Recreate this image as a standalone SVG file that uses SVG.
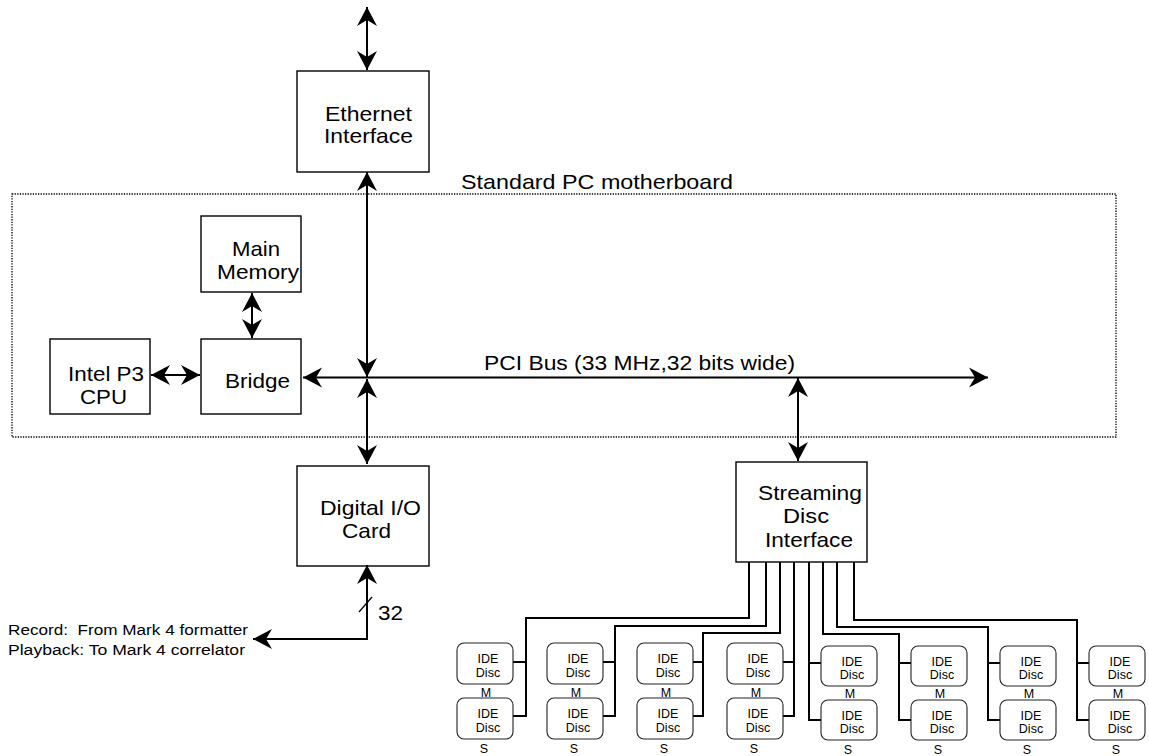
<svg xmlns="http://www.w3.org/2000/svg" width="1149" height="756" viewBox="0 0 1149 756">
<defs>
<marker id="ah" viewBox="-20 -11 21 22" refX="0" refY="0" markerWidth="21" markerHeight="22" markerUnits="userSpaceOnUse" orient="auto-start-reverse">
<path d="M0,0 L-19,-10 L-13,0 L-19,10 Z" fill="#000"/>
</marker>
<style>
.box{fill:#fff;stroke:#000;stroke-width:1.4}
.disc{fill:#fff;stroke:#222;stroke-width:1.1}
.big{font-family:"Liberation Sans",Arial,sans-serif;font-size:21px;fill:#000}
.small{font-family:"Liberation Sans",Arial,sans-serif;font-size:15.5px;fill:#000}
.dt{font-family:"Liberation Sans",Arial,sans-serif;font-size:12.5px;fill:#000;text-anchor:middle}
.conn{fill:none;stroke:#000;stroke-width:2}
.arr{fill:none;stroke:#000;stroke-width:2;marker-start:url(#ah);marker-end:url(#ah)}
</style>
</defs>
<rect width="1149" height="756" fill="#fff"/>

<g id="motherboard">
<rect x="12" y="194" width="1104" height="243" fill="none" stroke="#000" stroke-width="1.3" stroke-dasharray="1.3 1.3"/>
<text class="big" x="461" y="189" textLength="272" lengthAdjust="spacingAndGlyphs">Standard PC motherboard</text>
</g>

<g id="ethernet">
<rect class="box" x="297" y="71" width="132" height="101"/>
<text class="big" x="325" y="121" textLength="87" lengthAdjust="spacingAndGlyphs">Ethernet</text>
<text class="big" x="324" y="143" textLength="89" lengthAdjust="spacingAndGlyphs">Interface</text>
</g>

<g id="memory">
<rect class="box" x="201" y="216" width="100" height="76"/>
<text class="big" x="232" y="256" textLength="48" lengthAdjust="spacingAndGlyphs">Main</text>
<text class="big" x="217" y="279" textLength="82" lengthAdjust="spacingAndGlyphs">Memory</text>
</g>

<g id="cpu">
<rect class="box" x="50" y="339" width="100" height="75"/>
<text class="big" x="68" y="381" textLength="76" lengthAdjust="spacingAndGlyphs">Intel P3</text>
<text class="big" x="80" y="404" textLength="47" lengthAdjust="spacingAndGlyphs">CPU</text>
</g>

<g id="bridge">
<rect class="box" x="201" y="339" width="100" height="75"/>
<text class="big" x="225" y="388" textLength="65" lengthAdjust="spacingAndGlyphs">Bridge</text>
</g>

<g id="pci-label">
<text class="big" x="484" y="370" textLength="311" lengthAdjust="spacingAndGlyphs">PCI Bus (33 MHz,32 bits wide)</text>
</g>

<g id="digital-io">
<rect class="box" x="297" y="466" width="132" height="100"/>
<text class="big" x="320" y="515" textLength="101" lengthAdjust="spacingAndGlyphs">Digital I/O</text>
<text class="big" x="342" y="538" textLength="49" lengthAdjust="spacingAndGlyphs">Card</text>
</g>

<g id="streaming">
<rect class="box" x="736" y="462" width="131" height="100"/>
<text class="big" x="758" y="500" textLength="104" lengthAdjust="spacingAndGlyphs">Streaming</text>
<text class="big" x="783" y="523" textLength="46" lengthAdjust="spacingAndGlyphs">Disc</text>
<text class="big" x="765" y="547" textLength="88" lengthAdjust="spacingAndGlyphs">Interface</text>
</g>

<g id="io-labels">
<text class="small" x="8" y="635" textLength="240" lengthAdjust="spacingAndGlyphs">Record:&#160; From Mark 4 formatter</text>
<text class="small" x="8" y="655" textLength="237" lengthAdjust="spacingAndGlyphs">Playback: To Mark 4 correlator</text>
<text class="big" x="378" y="620" textLength="25" lengthAdjust="spacingAndGlyphs">32</text>
</g>

<g id="connectors">
<line class="arr" x1="367" y1="7" x2="367" y2="70"/>
<line class="arr" x1="367" y1="172" x2="367" y2="377"/>
<line class="arr" x1="367" y1="379" x2="367" y2="464"/>
<line class="arr" x1="303" y1="377.5" x2="988" y2="377.5"/>
<line class="arr" x1="798" y1="378" x2="798" y2="461"/>
<line class="arr" x1="252" y1="293" x2="252" y2="338"/>
<line class="arr" x1="151" y1="375" x2="200" y2="375"/>
<path class="arr" d="M367,565 V639 H253"/>
<line x1="359" y1="612" x2="372" y2="597" stroke="#000" stroke-width="1.3"/>

<path class="conn" d="M749,562 V618 H526 V716 H513 M513,662 H526"/>
<path class="conn" d="M766,562 V626 H615 V716 H603 M603,662 H615"/>
<path class="conn" d="M780,562 V633 H703 V716 H693 M693,662 H703"/>
<path class="conn" d="M794,562 V716 H783 M783,662 H794"/>
<path class="conn" d="M809,562 V720 H821 M809,663 H821"/>
<path class="conn" d="M823,562 V634 H899 V720 H911 M899,663 H911"/>
<path class="conn" d="M837,562 V627 H988 V720 H1000 M988,663 H1000"/>
<path class="conn" d="M854,562 V620 H1077 V720 H1089 M1077,663 H1089"/>
</g>

<g id="disc1m"><rect class="disc" x="457" y="643" width="56" height="41" rx="7"/><text class="dt" x="488" y="663">IDE</text><text class="dt" x="488" y="677">Disc</text></g>
<g id="disc1s"><rect class="disc" x="457" y="698" width="56" height="41" rx="7"/><text class="dt" x="488" y="718">IDE</text><text class="dt" x="488" y="732">Disc</text></g>
<g id="disc2m"><rect class="disc" x="547" y="643" width="56" height="41" rx="7"/><text class="dt" x="578" y="663">IDE</text><text class="dt" x="578" y="677">Disc</text></g>
<g id="disc2s"><rect class="disc" x="547" y="698" width="56" height="41" rx="7"/><text class="dt" x="578" y="718">IDE</text><text class="dt" x="578" y="732">Disc</text></g>
<g id="disc3m"><rect class="disc" x="637" y="643" width="56" height="41" rx="7"/><text class="dt" x="668" y="663">IDE</text><text class="dt" x="668" y="677">Disc</text></g>
<g id="disc3s"><rect class="disc" x="637" y="698" width="56" height="41" rx="7"/><text class="dt" x="668" y="718">IDE</text><text class="dt" x="668" y="732">Disc</text></g>
<g id="disc4m"><rect class="disc" x="727" y="643" width="56" height="41" rx="7"/><text class="dt" x="758" y="663">IDE</text><text class="dt" x="758" y="677">Disc</text></g>
<g id="disc4s"><rect class="disc" x="727" y="698" width="56" height="41" rx="7"/><text class="dt" x="758" y="718">IDE</text><text class="dt" x="758" y="732">Disc</text></g>
<g id="disc5m"><rect class="disc" x="821" y="646" width="56" height="40" rx="7"/><text class="dt" x="852" y="666">IDE</text><text class="dt" x="852" y="679">Disc</text></g>
<g id="disc5s"><rect class="disc" x="821" y="700" width="56" height="40" rx="7"/><text class="dt" x="852" y="720">IDE</text><text class="dt" x="852" y="733">Disc</text></g>
<g id="disc6m"><rect class="disc" x="911" y="646" width="56" height="40" rx="7"/><text class="dt" x="942" y="666">IDE</text><text class="dt" x="942" y="679">Disc</text></g>
<g id="disc6s"><rect class="disc" x="911" y="700" width="56" height="40" rx="7"/><text class="dt" x="942" y="720">IDE</text><text class="dt" x="942" y="733">Disc</text></g>
<g id="disc7m"><rect class="disc" x="1000" y="646" width="56" height="40" rx="7"/><text class="dt" x="1031" y="666">IDE</text><text class="dt" x="1031" y="679">Disc</text></g>
<g id="disc7s"><rect class="disc" x="1000" y="700" width="56" height="40" rx="7"/><text class="dt" x="1031" y="720">IDE</text><text class="dt" x="1031" y="733">Disc</text></g>
<g id="disc8m"><rect class="disc" x="1089" y="646" width="56" height="40" rx="7"/><text class="dt" x="1120" y="666">IDE</text><text class="dt" x="1120" y="679">Disc</text></g>
<g id="disc8s"><rect class="disc" x="1089" y="700" width="56" height="40" rx="7"/><text class="dt" x="1120" y="720">IDE</text><text class="dt" x="1120" y="733">Disc</text></g>

<g id="ms-labels">
<text class="dt" x="486" y="697">M</text><text class="dt" x="484" y="753">S</text>
<text class="dt" x="576" y="697">M</text><text class="dt" x="574" y="753">S</text>
<text class="dt" x="666" y="697">M</text><text class="dt" x="664" y="753">S</text>
<text class="dt" x="756" y="697">M</text><text class="dt" x="754" y="753">S</text>
<text class="dt" x="850" y="698">M</text><text class="dt" x="848" y="754">S</text>
<text class="dt" x="940" y="698">M</text><text class="dt" x="938" y="754">S</text>
<text class="dt" x="1029" y="698">M</text><text class="dt" x="1027" y="754">S</text>
<text class="dt" x="1118" y="698">M</text><text class="dt" x="1116" y="754">S</text>
</g>
</svg>
